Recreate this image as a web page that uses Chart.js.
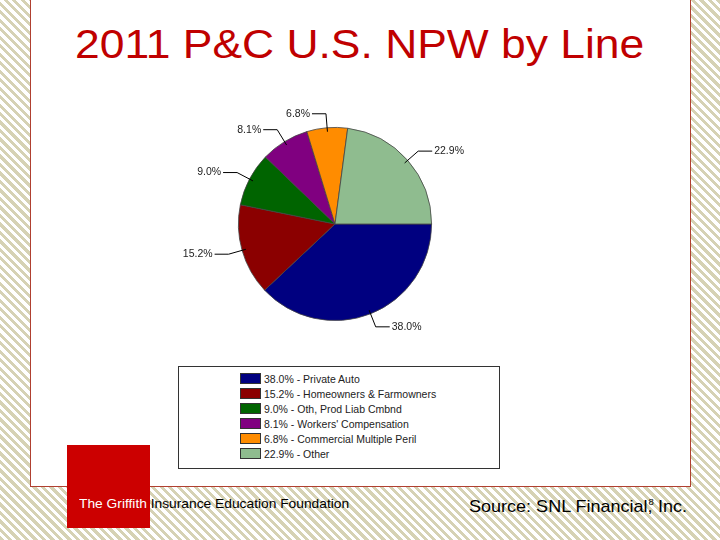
<!DOCTYPE html>
<html><head><meta charset="utf-8">
<script src="https://cdn.jsdelivr.net/npm/chart.js@4"></script>
<style>
html,body{margin:0;padding:0}
body{width:720px;height:540px;position:relative;overflow:hidden;font-family:Arial,"Liberation Sans",sans-serif;
background:repeating-linear-gradient(45deg,#d6d2b4 0 3px,#ffffff 3px 6px);}
#panel{position:absolute;left:30px;top:-1px;width:659px;height:486px;background:#fff;border:1px solid #b04030;}
#title{position:absolute;left:75px;top:22px;font-size:40px;color:#c00000;white-space:nowrap;transform-origin:0 0;transform:scaleX(1.11)}
#red{position:absolute;left:67px;top:445px;width:83px;height:83px;background:#cc0000}
#foot{position:absolute;left:79px;top:496px;font-size:13px;color:#000;white-space:nowrap;transform-origin:0 0;transform:scaleX(1.06)}
#foot span{color:#fff}
#src{position:absolute;left:469px;top:497px;font-size:17px;color:#000;white-space:nowrap;transform-origin:0 0;transform:scaleX(1.06)}
#wrap{position:absolute;left:150px;top:84px;width:370px;height:280px}
#legend{position:absolute;left:178px;top:366px;width:320px;height:101px;border:1px solid #333;background:#fff;font-size:10.5px;color:#222}
.li{position:absolute;left:61px;height:12px;line-height:12px;white-space:nowrap}
.sw{display:inline-block;width:19px;height:9px;border:1px solid #333;vertical-align:-1px;margin-right:3px}
</style></head><body>
<div id="panel"></div>
<div id="title">2011 P&amp;C U.S. NPW by Line</div>
<div id="red"></div>
<div id="foot"><span>The Griffith</span> Insurance Education Foundation</div>
<div id="src">Source: SNL Financial,<span style="font-size:9px;position:relative;left:-4px;top:-7px">8</span>Inc.</div>
<div id="wrap"><canvas id="c"></canvas></div>
<div id="legend"></div>
<script>
const categories=["Private Auto","Homeowners & Farmowners","Oth, Prod Liab Cmbnd","Workers' Compensation","Commercial Multiple Peril","Other"];
const values=[38.0,15.2,9.0,8.1,6.8,22.9];
const colors=["#000080","#8b0000","#006400","#800080","#ff8c00","#8fbc8f"];
const lg=document.getElementById('legend');
categories.forEach((c,i)=>{const d=document.createElement('div');d.className='li';d.style.top=(6+i*15)+'px';
d.innerHTML='<span class="sw" style="background:'+colors[i]+'"></span>'+values[i].toFixed(1)+'% - '+c.replace('&','&amp;');lg.appendChild(d);});
const leader={id:'leader',afterDatasetsDraw(ch){const ctx=ch.ctx;const m=ch.getDatasetMeta(0);
ctx.save();ctx.strokeStyle='#000';ctx.lineWidth=1;ctx.font='10.5px Arial';ctx.fillStyle='#222';ctx.textBaseline='middle';
m.data.forEach((a,i)=>{const ang=(a.startAngle+a.endAngle)/2;const r=a.outerRadius;
const x0=a.x+Math.cos(ang)*(r-4),y0=a.y+Math.sin(ang)*(r-4);
const x1=a.x+Math.cos(ang)*(r+14),y1=a.y+Math.sin(ang)*(r+14);
const right=Math.cos(ang)>=0;const x2=x1+(right?14:-14);
ctx.beginPath();ctx.moveTo(x0,y0);ctx.lineTo(x1,y1);ctx.lineTo(x2,y1);ctx.stroke();
const t=values[i].toFixed(1)+'%';ctx.textAlign=right?'left':'right';ctx.fillText(t,x2+(right?2:-2),y1);});
ctx.restore();}};
new Chart(document.getElementById('c'),{type:'pie',data:{labels:categories,datasets:[{data:values,backgroundColor:colors,borderColor:'#444',borderWidth:0.8}]},
options:{responsive:true,maintainAspectRatio:false,animation:false,rotation:90,layout:{padding:{top:43,bottom:43}},
plugins:{legend:{display:false},tooltip:{enabled:false}}},plugins:[leader]});
</script></body></html>
